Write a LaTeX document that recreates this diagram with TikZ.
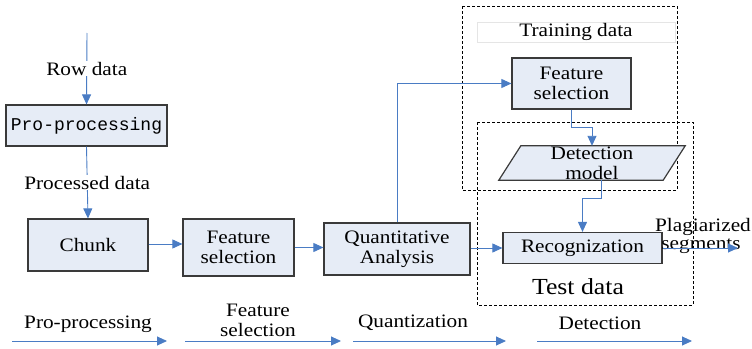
\documentclass[tikz,border=0pt]{standalone}
\usepackage{fontspec}
\setmainfont{Liberation Serif}[FakeStretch=1.12]
\newfontfamily\boxmono{Liberation Mono}
\usetikzlibrary{arrows.meta}
\definecolor{flowblue}{HTML}{4A7CC4}
\definecolor{boxfill}{HTML}{E6ECF6}
\definecolor{boxline}{HTML}{3A3A3A}
\tikzset{
  stagebox/.style={draw=boxline, line width=1.2pt, fill=boxfill, inner sep=0pt,
    align=center, font=\fontsize{19}{20}\selectfont},
  flow/.style={draw=flowblue, line width=0.9pt, -{Triangle[length=10pt,width=9pt]}},
  plainline/.style={draw=flowblue, line width=0.9pt},
  lbl/.style={font=\fontsize{19}{20}\selectfont, inner sep=1pt, align=center},
  region/.style={draw=black, line width=0.8pt, dash pattern=on 3pt off 2pt},
}
\begin{document}
\begin{tikzpicture}[x=1pt,y=-1pt]
\useasboundingbox (0,0) rectangle (752,348);

% dashed regions
\draw[region] (462,6) rectangle (677,190);
\draw[region] (477,122) rectangle (693,305);
\node[draw=black!10, line width=0.8pt, minimum width=198pt, minimum height=20pt, inner sep=0pt,
  font=\fontsize{19}{20}\selectfont] (train) at (576,32) {Training data};
\node[font=\fontsize{23}{24}\selectfont, inner sep=0pt] (testlbl) at (578,287) {Test data};

% stages
\node[stagebox, minimum width=161pt, minimum height=41pt, font=\boxmono\fontsize{18}{20}\selectfont]
  (pre) at (86.5,125.5) {Pro-processing};
\node[stagebox, minimum width=120pt, minimum height=52pt] (chunk) at (88,245) {Chunk};
\node[stagebox, minimum width=111pt, minimum height=57pt] (fsa) at (238.5,247.5) {Feature\\selection};
\node[stagebox, minimum width=146pt, minimum height=52pt] (qa) at (397,249) {Quantitative\\Analysis};
\node[stagebox, minimum width=159pt, minimum height=31pt] (rec) at (582.5,248) {Recognization};
\node[stagebox, minimum width=119pt, minimum height=51pt] (fsb) at (571.5,83.5) {Feature\\selection};

% detection model (parallelogram)
\node[minimum width=164pt, minimum height=34pt, inner sep=0pt] (dm) at (592,163) {};
\draw[fill=boxfill, draw=boxline, line width=1.2pt]
  ([xshift=11pt]dm.north west) -- ([xshift=11pt]dm.north east)
  -- ([xshift=-11pt]dm.south east) -- ([xshift=-11pt]dm.south west) -- cycle;
\node[lbl, inner sep=0pt] (dmtxt) at (dm.center) {Detection\\model};

% input and flow arrows
\coordinate (src) at (87,33);
\draw[flow] (src) -- node[lbl, fill=white, pos=0.5] (rowlbl) {Row data} (pre.north);
\draw[flow] (pre.south) -- node[lbl, fill=white, pos=0.5] (proclbl) {Processed data} (chunk.north);
\draw[flow] ([yshift=1pt]chunk.east) -- ([yshift=1pt]chunk.east -| fsa.west);
\draw[flow] (fsa.east) -- (fsa.east -| qa.west);
\draw[flow] (qa.east |- rec.west) -- (rec.west);
\draw[flow] (qa.north) |- (fsb.west);
\draw[flow] (fsb.south) -- ++(0,18) -| (dm.north);
\draw[flow] ([xshift=9pt]dm.south) -- ++(0,18) -| (rec.north);

% output
\node[lbl, inner sep=0pt] (plag) at (703,227) {Plagiarized};
\node[lbl, inner sep=0pt] (segs) at (701,246) {segments};
\coordinate (out) at (738,248);
\draw[flow] (rec.east) -- (out);

% phase axis
\coordinate (pa1) at (12,341);  \coordinate (pb1) at (167,341);
\coordinate (pa2) at (185,341); \coordinate (pb2) at (341,341);
\coordinate (pa3) at (353,341); \coordinate (pb3) at (506,341);
\coordinate (pa4) at (537,341); \coordinate (pb4) at (692,341);
\draw[flow] (pa1) -- (pb1);
\draw[flow] (pa2) -- (pb2);
\draw[flow] (pa3) -- (pb3);
\draw[flow] (pa4) -- (pb4);
\node[lbl, inner sep=0pt] (ph1) at (88,324) {Pro-processing};
\node[lbl, inner sep=0pt] (ph2) at (258,320) {Feature\\selection};
\node[lbl, inner sep=0pt] (ph3) at (413,323) {Quantization};
\node[lbl, inner sep=0pt] (ph4) at (600,323) {Detection};
\end{tikzpicture}
\end{document}
